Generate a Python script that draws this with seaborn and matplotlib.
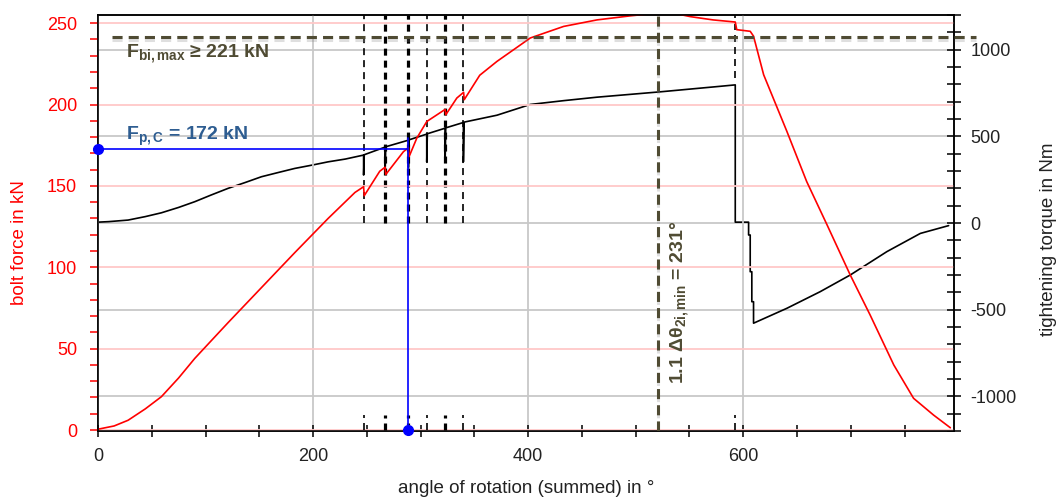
import matplotlib
matplotlib.use('Agg')
import matplotlib.pyplot as plt
import matplotlib.patheffects as pe
from matplotlib.ticker import MultipleLocator
import seaborn as sns

# bolt force (kN) over summed angle of rotation (deg)
force_angle = [0, 15, 28, 44, 59, 75, 90, 121, 152, 183, 214, 239, 247, 247.6, 262, 267, 267.6,
               284, 288.7, 289.3, 296.5, 305.8, 322.8, 323.4, 333.7, 340, 340.6, 355, 371, 402,
               433, 464, 495, 510, 540, 551, 572, 592.6, 594, 606.5, 609.6, 619, 640.6, 659, 678,
               699.5, 718, 740, 758.4, 777, 792.6]
force_kn = [0.5, 2.5, 6, 13, 20.5, 32, 44, 66, 87.5, 109, 130, 146, 149.5, 144, 159, 161.5, 157,
            171, 173.5, 168, 179.4, 189.6, 197, 193.7, 204, 207.5, 203, 218, 226.5, 240.9,
            248, 252, 254.5, 255.5, 255.5, 254, 252, 250.7, 246, 245, 242, 218.3, 183.5, 152.7, 126,
            95.3, 70.7, 40, 19.5, 9.2, 1.4]

# tightening torque (Nm)
torque_angle = [0, 10, 28, 44, 59, 75, 90, 105, 121, 137, 152, 168, 183, 199, 214, 230, 247, 247,
                247.6, 267, 267, 267.6, 288.7, 288.7, 289.3, 305.7, 305.7, 306.3, 322.8, 322.8,
                323.4, 339.8, 339.8, 340.4, 371, 402, 433, 464, 523, 579, 592.6, 592.6, 605, 605,
                606.5, 606.5, 608, 608, 609.6, 609.6, 640.6, 671.6, 699.5, 733.6, 764.7, 791]
torque_nm = [5, 8, 17, 37, 59, 90, 123, 161, 200, 234, 267, 292, 315, 334, 353, 369, 392, 277,
             394, 438, 286, 440, 478, 320, 480, 513, 353, 515, 547, 353,
             549, 580, 353, 582, 622, 684, 706, 726, 757, 789, 797, 5, 5, -69,
             -69, -281, -281, -454, -454, -578, -492, -396, -300, -165, -60, -15]

# tightening steps (dashed markers)
step_angles = [247, 267, 288.7, 305.7, 322.8, 339.8]
step_thick = [False, True, True, False, True, False]
release_angle = 592.6
release_torque = 835

# evaluation
fp_c = 172.5
fp_c_angle = 288.7
fp_c_top = 179.6
fbi_max_level = 241.5
fbi_line_span = [12.7, 816]
theta_min_angle = 520.6

olive = '#4f4b33'

sns.set_theme(style='white')
plt.rcParams['font.family'] = ['Liberation Sans', 'DejaVu Sans']
plt.rcParams['axes.unicode_minus'] = False
plt.rcParams['mathtext.fontset'] = 'custom'
plt.rcParams['mathtext.rm'] = 'Liberation Sans'
plt.rcParams['mathtext.bf'] = 'Liberation Sans:bold'
plt.rcParams['mathtext.it'] = 'Liberation Sans:italic'

fig = plt.figure(figsize=(10.58, 5.01), dpi=100)
ax = fig.add_axes([0.0926, 0.1397, 0.8091, 0.8303])
ax2 = ax.twinx()
ax.set_zorder(ax2.get_zorder() + 1)
ax.patch.set_visible(False)

# torque on right axis
sns.lineplot(x=torque_angle, y=torque_nm, ax=ax2, color='black', lw=1.2,
             sort=False, estimator=None)
for a, thick in zip(step_angles, step_thick):
    lw = 2.3 if thick else 1.2
    ax2.plot([a, a], [0, 1200], color='black', lw=lw, dashes=(7 / (lw * 1.39), 5 / (lw * 1.39)))
    ax.plot([a, a], [0, 9], color='black', lw=lw, dashes=(7 / (lw * 1.39), 5 / (lw * 1.39)))
ax2.plot([release_angle, release_angle], [release_torque, 1200], color='black', lw=1.2,
         dashes=(4.2, 3))
ax.plot([release_angle, release_angle], [0, 9], color='black', lw=1.2, dashes=(4.2, 3))

# bolt force on left axis
sns.lineplot(x=force_angle, y=force_kn, ax=ax, color='red', lw=1.2,
             sort=False, estimator=None)

# preload point
ax.plot([0, fp_c_angle], [fp_c, fp_c], color='blue', lw=1.2)
ax.plot([fp_c_angle, fp_c_angle], [0, fp_c_top], color='blue', lw=1.2)
ax.plot([0, fp_c_angle], [fp_c, 0], 'o', color='blue', ms=7, clip_on=False, zorder=6)

shadow = [pe.SimpleLineShadow(offset=(0, -2.5), shadow_color='gray', alpha=0.25), pe.Normal()]
ax.plot(fbi_line_span, [fbi_max_level, fbi_max_level], color=olive, lw=2.2, dashes=(3.3, 2),
        clip_on=False, path_effects=shadow, zorder=5)
ax.axvline(theta_min_angle, color=olive, lw=2.2, dashes=(3.3, 2), path_effects=shadow, zorder=5)

ax.text(26, 228.8, r'$\mathbf{F}_{\mathbf{bi,max}}$ ≥ 221 kN', color=olive, fontsize=14,
        fontweight='bold', ha='left', va='baseline')
ax.text(26, 178.3, r'$\mathbf{F}_{\mathbf{p,C}}$ = 172 kN', color='#2e5d91', fontsize=14,
        fontweight='bold', ha='left', va='baseline')
ax.text(540.5, 78.7, r'1.1 Δθ$_{\mathregular{2i,min}}$ = 231°', color=olive, fontsize=14,
        fontweight='bold', rotation=90, ha='center', va='center')

# limits, ticks, grids
ax.set_xlim(0, 796)
ax.set_ylim(-0.6, 255)
ax2.set_ylim(-1200, 1200)
ax.xaxis.set_major_locator(MultipleLocator(200))
ax.xaxis.set_minor_locator(MultipleLocator(50))
ax.yaxis.set_major_locator(MultipleLocator(50))
ax.yaxis.set_minor_locator(MultipleLocator(10))
ax2.yaxis.set_major_locator(MultipleLocator(500))
ax2.yaxis.set_minor_locator(MultipleLocator(100))

ax2.yaxis.grid(True, color='#c8c8c8', lw=1.3)
ax.yaxis.grid(True, color='#ffc8c8', lw=1.3)
ax.xaxis.grid(True, color='#c8c8c8', lw=1.3)
ax.set_axisbelow(True)

ax.tick_params(axis='y', which='both', direction='out', length=6, width=1.1, color='red',
               labelcolor='red', labelsize=13, pad=9, left=True)
ax.tick_params(axis='x', which='both', direction='inout', length=8.6, width=1.1, color='black',
               labelcolor='#222222', labelsize=13, pad=8, bottom=True)
ax2.tick_params(axis='y', which='both', direction='inout', length=10, width=1.1, color='black',
                labelcolor='#222222', labelsize=13, pad=7, right=True)

for a in (ax, ax2):
    for s in a.spines.values():
        s.set_color('black')
        s.set_linewidth(1.1)

ax.set_xlabel('angle of rotation (summed) in °', fontsize=13.5, color='#222222')
ax.xaxis.set_label_coords(0.5, -0.118)
ax.set_ylabel('bolt force in kN', fontsize=13.5, color='red')
ax.yaxis.set_label_coords(-0.082, 0.454)
ax2.set_ylabel('tightening torque in Nm', fontsize=13.5, color='#222222')
ax2.yaxis.set_label_coords(1.100, 0.4615)

fig.savefig('out.png', dpi=100)
